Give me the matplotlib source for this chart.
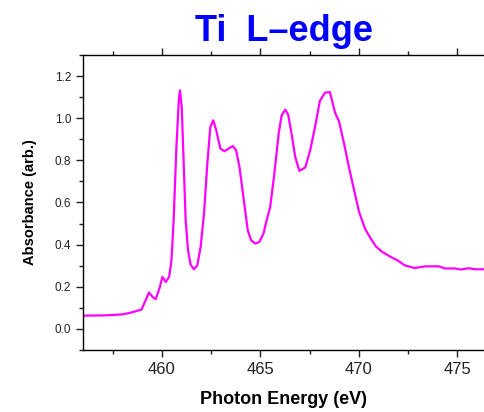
import matplotlib
matplotlib.use("Agg")
import matplotlib.pyplot as plt
from matplotlib.ticker import MultipleLocator

plt.rcParams["font.family"] = ["Liberation Sans", "DejaVu Sans"]

# Ti L-edge absorbance
energy = [456.0, 457.0, 457.5, 458.0, 458.38, 458.97, 459.14, 459.35, 459.53,
          459.69, 459.9, 460.03, 460.2, 460.37, 460.49, 460.6, 460.74, 460.86,
          460.92, 461.01, 461.11, 461.21, 461.33, 461.46, 461.63, 461.8, 461.97,
          462.14, 462.31, 462.46, 462.61, 462.76, 462.97, 463.18, 463.44, 463.6,
          463.77, 463.94, 464.14, 464.36, 464.53, 464.74, 464.95, 465.16, 465.32,
          465.5, 465.71, 465.93, 466.08, 466.27, 466.42, 466.61, 466.77, 466.98,
          467.28, 467.53, 467.79, 468.02, 468.28, 468.53, 468.78, 469.0, 469.25,
          469.51, 469.76, 470.01, 470.31, 470.6, 470.86, 471.19, 471.61, 471.95,
          472.32, 472.83, 473.38, 474.06, 474.36, 474.9, 475.16, 475.58, 475.91,
          476.3]
absorbance = [0.063, 0.064, 0.066, 0.069, 0.076, 0.092, 0.128, 0.173, 0.152,
              0.141, 0.199, 0.247, 0.223, 0.247, 0.326, 0.516, 0.863, 1.085,
              1.132, 1.053, 0.785, 0.516, 0.373, 0.305, 0.283, 0.302, 0.389,
              0.547, 0.785, 0.958, 0.99, 0.943, 0.856, 0.843, 0.859, 0.868,
              0.848, 0.769, 0.626, 0.468, 0.421, 0.405, 0.413, 0.453, 0.516,
              0.579, 0.737, 0.927, 1.014, 1.041, 1.014, 0.911, 0.816, 0.75,
              0.766, 0.848, 0.966, 1.082, 1.121, 1.124, 1.03, 0.982, 0.879,
              0.761, 0.658, 0.555, 0.476, 0.429, 0.392, 0.365, 0.342, 0.326,
              0.302, 0.289, 0.297, 0.297, 0.287, 0.287, 0.282, 0.288, 0.283,
              0.283]

fig = plt.figure(figsize=(4.84, 4.12), dpi=100)
ax = fig.add_axes([0.1715, 0.1505, 0.8285, 0.716])

ax.plot(energy, absorbance, color="#ff00ff", lw=1.6, solid_joinstyle="round")

ax.set_xlim(456, 476.35)
ax.set_ylim(-0.1, 1.3)
ax.xaxis.set_major_locator(MultipleLocator(5))
ax.xaxis.set_minor_locator(MultipleLocator(2.5))
ax.yaxis.set_major_locator(MultipleLocator(0.2))
ax.yaxis.set_minor_locator(MultipleLocator(0.1))

ax.spines["right"].set_visible(False)
for s in ["left", "bottom", "top"]:
    ax.spines[s].set_linewidth(1.0)

ax.tick_params(axis="x", which="both", direction="out", top=True, labelsize=12,
               colors="#222222")
ax.tick_params(axis="y", which="both", direction="out", labelsize=8.5,
               colors="#222222")
ax.tick_params(which="major", length=5, width=1)
ax.tick_params(which="minor", length=3, width=1)

ax.set_xlabel("Photon Energy (eV)", fontsize=13, fontweight="bold", labelpad=10)
ax.set_ylabel("Absorbance (arb.)", fontsize=10.5, fontweight="bold", labelpad=13)
ax.set_title("Ti  L\u2013edge", fontsize=26, fontweight="bold", color="#0000ff",
             pad=10)

plt.savefig("out.png", dpi=100)
plt.close()
